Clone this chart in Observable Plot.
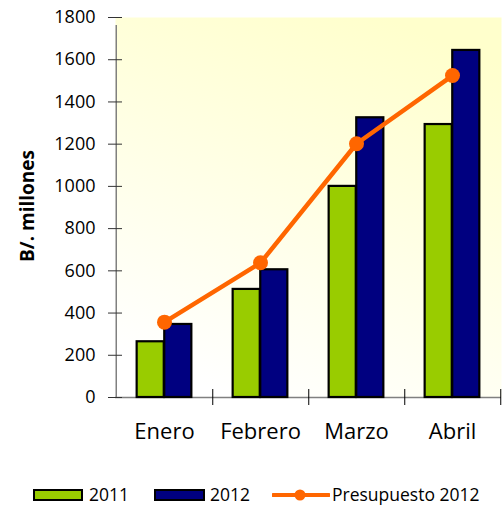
<!DOCTYPE html>
<html><head><meta charset="utf-8">
<script src="https://cdn.jsdelivr.net/npm/d3@7"></script>
<script src="https://cdn.jsdelivr.net/npm/@observablehq/plot@0.6"></script>
<style>
body{margin:0;background:#fff;font-family:"Open Sans",sans-serif;}
#wrap{position:relative;width:502px;height:506px;}
#chart{position:absolute;left:0;top:0;}
#ytitle{position:absolute;left:27px;top:206px;transform:translate(-50%,-50%) rotate(-90deg);font-weight:bold;font-size:19px;white-space:nowrap;color:#000;}
.lg{position:absolute;font-size:17.5px;line-height:17px;color:#000;white-space:nowrap;}
.sw{position:absolute;box-sizing:border-box;border:2px solid #000;height:12px;}
</style></head><body>
<div id="wrap"><div id="chart"></div><div id="ytitle"></div><div id="legend"></div></div>
<script>
const months = ["Enero", "Febrero", "Marzo", "Abril"];
const values2011 = [264, 512, 1000, 1293];
const values2012 = [346, 605, 1325, 1644];
const presupuesto2012 = [357, 638, 1202, 1525];
const yTicks = [0, 200, 400, 600, 800, 1000, 1200, 1400, 1600, 1800];
const yTitle = "B/. millones";
const seriesNames = ["2011", "2012", "Presupuesto 2012"];
const seriesColors = ["#99CC00", "#000080", "#FF6600"];

const W = 502, H = 460, mL = 115, mR = 1, mT = 17, mB = 63;
const bw = (W - mL - mR) / months.length;
const bars2011 = months.map((m, i) => ({month: m, value: values2011[i]}));
const bars2012 = months.map((m, i) => ({month: m, value: values2012[i]}));
const budget = months.map((m, i) => ({month: m, value: presupuesto2012[i]}));

const chart = Plot.plot({
  width: W, height: H,
  marginLeft: mL, marginRight: mR, marginTop: mT, marginBottom: mB,
  style: {fontFamily: "Open Sans", background: "transparent", color: "#000"},
  x: {domain: months, padding: 0, label: null},
  y: {domain: [0, 1800], label: null},
  marks: [
    Plot.frame({fill: "url(#bg)", stroke: null}),
    Plot.ruleY([0], {stroke: "#808080", strokeWidth: 1.5}),
    Plot.ruleX([months[0]], {x: d => d, dx: -bw / 2, y1: () => 0, y2: () => 1800, insetBottom: -8, stroke: "#808080", strokeWidth: 1.5}),
    Plot.ruleX(months, {x: d => d, dx: bw / 2, y1: () => 0, y2: () => 0, insetTop: -8, insetBottom: -8, stroke: "#000", strokeWidth: 1}),
    Plot.axisY({ticks: yTicks, tickFormat: d3.format("d"), tickSize: 14, dx: 7, tickPadding: 13, fontSize: 18, stroke: "#333", label: null}),
    Plot.axisX({tickSize: 0, tickPadding: 26, fontSize: 22, label: null}),
    Plot.barY(bars2011, {x: "month", y: "value", fill: seriesColors[0], stroke: "#000", strokeWidth: 2.2, insetLeft: 0.214 * bw, insetRight: 0.5 * bw}),
    Plot.barY(bars2012, {x: "month", y: "value", fill: seriesColors[1], stroke: "#000", strokeWidth: 2.2, insetLeft: 0.5 * bw, insetRight: 0.214 * bw}),
    Plot.line(budget, {x: "month", y: "value", stroke: seriesColors[2], strokeWidth: 4.5}),
    Plot.dot(budget, {x: "month", y: "value", fill: seriesColors[2], r: 7.5, stroke: null})
  ]
});
chart.insertAdjacentHTML("afterbegin",
  '<defs><linearGradient id="bg" x1="0.7" y1="0" x2="0.3" y2="1"><stop offset="0" stop-color="#FFFFCC"/><stop offset="1" stop-color="#FFFFFF"/></linearGradient></defs>');
document.getElementById("chart").appendChild(chart);
document.getElementById("ytitle").textContent = yTitle;

const legend = document.getElementById("legend");
legend.innerHTML = `
  <div class="sw" style="left:33px;top:489px;width:50px;background:${seriesColors[0]}"></div>
  <div class="lg" style="left:89px;top:486px">${seriesNames[0]}</div>
  <div class="sw" style="left:154px;top:489px;width:51px;background:${seriesColors[1]}"></div>
  <div class="lg" style="left:210px;top:486px">${seriesNames[1]}</div>
  <svg style="position:absolute;left:272px;top:487px" width="58" height="16"><line x1="1" y1="8" x2="57" y2="8" stroke="${seriesColors[2]}" stroke-width="4" stroke-linecap="round"/><circle cx="28" cy="8" r="5.5" fill="${seriesColors[2]}"/></svg>
  <div class="lg" style="left:332px;top:486px">${seriesNames[2]}</div>`;
</script>
</body></html>
